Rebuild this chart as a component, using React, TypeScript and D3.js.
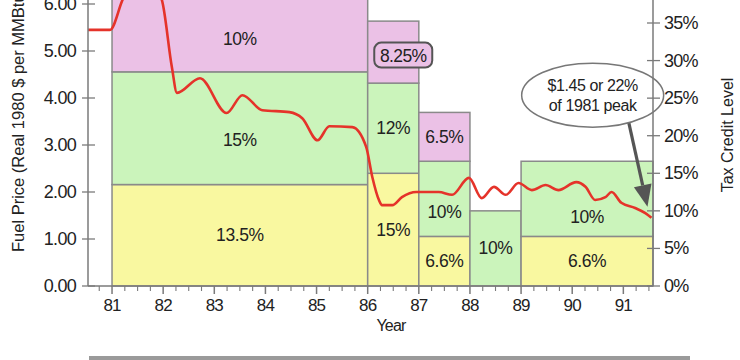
import React from "react";
import * as d3 from "d3";

// ---- Data ----
const blockStart = [81, 86, 87, 88, 89];
const blockEnd = [86, 87, 88, 89, 91.58];
const yellowCredit = [13.5, 15, 6.6, 0, 6.6];
const greenCredit = [15, 12, 10, 10, 10];
const pinkCredit = [10, 8.25, 6.5, 0, 0];
const yellowLabels = ["13.5%", "15%", "6.6%", "", "6.6%"];
const greenLabels = ["15%", "12%", "10%", "10%", "10%"];
const pinkLabels = ["10%", "8.25%", "6.5%", "", ""];

const priceYear = [
  80.53, 80.96, 81.21, 81.45, 81.7, 81.97, 82.17, 82.27, 82.72, 83.24, 83.55, 83.94,
  84.47, 84.72, 85.02, 85.25, 85.7, 85.97, 86.09, 86.22, 86.28, 86.48, 86.67, 86.95,
  87.39, 87.65, 87.98, 88.23, 88.47, 88.7, 88.95, 89.21, 89.48, 89.73, 90.08, 90.26,
  90.45, 90.65, 90.77, 90.96, 91.23, 91.43, 91.55,
];
const priceValue = [
  5.45, 5.45, 6.1, 6.6, 6.5, 6.1, 4.66, 4.11, 4.42, 3.68, 4.06, 3.74,
  3.7, 3.57, 3.1, 3.4, 3.38, 2.96, 2.32, 1.83, 1.72, 1.72, 1.89, 2.0,
  2.0, 1.94, 2.3, 1.87, 2.11, 1.94, 2.19, 2.04, 2.15, 2.04, 2.21, 2.11,
  1.83, 1.89, 2.0, 1.77, 1.66, 1.55, 1.45,
];

const yearTicks = [81, 82, 83, 84, 85, 86, 87, 88, 89, 90, 91];
const priceTicks = [0, 1, 2, 3, 4, 5, 6];
const pctTicks = [0, 5, 10, 15, 20, 25, 30, 35];
const noteLines = ["$1.45 or 22%", "of 1981 peak"];

// ---- Styles ----
const W = 740, H = 360;
const YELLOW = "#f9f8a0";
const GREEN = "#cbf4bb";
const PINK = "#ebc1e6";
const EDGE = "#8a8a8a";
const AXIS = "#7a7a7a";
const RED = "#e5332a";
const TXT = "#222";
const FONT = "'Liberation Sans', Arial, sans-serif";

export default function App() {
  const x = d3.scaleLinear().domain([80.53, 91.58]).range([88, 653]);
  const yP = d3.scaleLinear().domain([0, 6]).range([286, 4]);
  const yC = d3.scaleLinear().domain([0, 35]).range([286, 23]);

  const pts = priceYear.map((yr, i) => [x(yr), yP(priceValue[i])] as [number, number]);
  const line = d3.line().curve(d3.curveMonotoneX)(pts) || "";

  const minorTicks = d3.range(0, 45).map((i) => 80.5 + i * 0.25).filter((v) => v >= 80.53 && v <= 91.58);

  const labelDy = { green: [12, 0, 13, 0, 18] };

  const blocks = blockStart.map((s, i) => {
    const y1 = yellowCredit[i];
    const g1 = y1 + greenCredit[i];
    const p1 = g1 + pinkCredit[i];
    return { s, e: blockEnd[i], y1, g1, p1, i };
  });

  const tip = [x(priceYear[priceYear.length - 1]) - 4, yP(priceValue[priceValue.length - 1]) - 11];
  const ellC = [x(90.4), yP(4.06)];
  const tail = [ellC[0] + 36, ellC[1] + 27];
  const ang = Math.atan2(tip[1] - tail[1], tip[0] - tail[0]);
  const hl = 22, hw = 9;
  const base = [tip[0] - hl * Math.cos(ang), tip[1] - hl * Math.sin(ang)];
  const head = [
    tip,
    [base[0] + hw * Math.sin(ang), base[1] - hw * Math.cos(ang)],
    [base[0] - hw * Math.sin(ang), base[1] + hw * Math.cos(ang)],
  ];

  const LBL = 17.5;

  return (
    <svg width={W} height={H} style={{ position: "absolute", left: 0, top: 0, background: "#fff" }} fontFamily={FONT}>
      {/* blocks */}
      {blocks.map((b) => (
        <g key={b.i}>
          {yellowCredit[b.i] > 0 && (
            <rect x={x(b.s)} y={yC(b.y1)} width={x(b.e) - x(b.s)} height={yC(0) - yC(b.y1)} fill={YELLOW} stroke={EDGE} strokeWidth={1.5} />
          )}
          {greenCredit[b.i] > 0 && (
            <rect x={x(b.s)} y={yC(b.g1)} width={x(b.e) - x(b.s)} height={yC(b.y1) - yC(b.g1)} fill={GREEN} stroke={EDGE} strokeWidth={1.5} />
          )}
          {pinkCredit[b.i] > 0 && (
            <rect x={x(b.s)} y={yC(b.p1)} width={x(b.e) - x(b.s)} height={yC(b.g1) - yC(b.p1)} fill={PINK} stroke={EDGE} strokeWidth={1.5} />
          )}
        </g>
      ))}
      {/* block labels */}
      {blocks.map((b) => {
        const cx = (x(b.s) + x(b.e)) / 2;
        const pinkTop = Math.max(yC(b.p1), 0);
        return (
          <g key={"l" + b.i} fontSize={LBL} fill={TXT} textAnchor="middle" dominantBaseline="central" letterSpacing={-0.4}>
            {yellowLabels[b.i] && <text x={cx} y={(yC(0) + yC(b.y1)) / 2}>{yellowLabels[b.i]}</text>}
            {greenLabels[b.i] && <text x={cx} y={(yC(b.y1) + yC(b.g1)) / 2 + labelDy.green[b.i]}>{greenLabels[b.i]}</text>}
            {pinkLabels[b.i] && b.i !== 1 && <text x={cx} y={(pinkTop + yC(b.g1)) / 2 + (b.i === 0 ? 3 : 0)}>{pinkLabels[b.i]}</text>}
          </g>
        );
      })}
      {/* boxed 8.25% label */}
      {(() => {
        const i = 1;
        const b = blocks[i];
        const cx = (x(b.s) + x(b.e)) / 2 + 10;
        const cy = (yC(b.p1) + yC(b.g1)) / 2 + 3;
        return (
          <g>
            <rect x={cx - 29} y={cy - 12.5} width={58} height={25} rx={7} fill={PINK} stroke="#555" strokeWidth={2} />
            <text x={cx} y={cy + 1} fontSize={LBL} fill={TXT} textAnchor="middle" dominantBaseline="central" letterSpacing={-0.6}>{pinkLabels[i]}</text>
          </g>
        );
      })()}
      {/* price line */}
      <path d={line} fill="none" stroke={RED} strokeWidth={2.6} strokeLinejoin="round" />
      {/* annotation */}
      <line x1={tail[0]} y1={tail[1]} x2={base[0]} y2={base[1]} stroke="#555" strokeWidth={3.2} />
      <polygon points={head.map((p) => p.join(",")).join(" ")} fill="#555" />
      <ellipse cx={ellC[0]} cy={ellC[1]} rx={71} ry={32} fill="#fff" stroke="#777" strokeWidth={1.5} />
      {noteLines.map((t, i) => (
        <text key={t} x={ellC[0]} y={ellC[1] - 10 + i * 20} fontSize={16} fill={TXT} textAnchor="middle" dominantBaseline="central" letterSpacing={-0.4}>{t}</text>
      ))}
      {/* axes */}
      <line x1={88} y1={0} x2={88} y2={286} stroke={AXIS} strokeWidth={1.5} />
      <line x1={653} y1={0} x2={653} y2={286} stroke={AXIS} strokeWidth={1.5} />
      <line x1={88} y1={286} x2={653} y2={286} stroke={AXIS} strokeWidth={1.5} />
      {priceTicks.map((t) => (
        <g key={"p" + t}>
          <line x1={82} x2={95} y1={yP(t)} y2={yP(t)} stroke={AXIS} strokeWidth={1.3} />
          <text x={76} y={yP(t)} fontSize={18} fill={TXT} textAnchor="end" dominantBaseline="central" letterSpacing={-0.7}>{t.toFixed(2)}</text>
        </g>
      ))}
      {pctTicks.map((t) => (
        <g key={"c" + t}>
          <line x1={647} x2={660} y1={yC(t)} y2={yC(t)} stroke={AXIS} strokeWidth={1.3} />
          <text x={664} y={yC(t)} fontSize={18} fill={TXT} textAnchor="start" dominantBaseline="central" letterSpacing={-0.7}>{t + "%"}</text>
        </g>
      ))}
      {minorTicks.map((t) => {
        const major = Math.abs(t - Math.round(t)) < 1e-6;
        return <line key={"m" + t} x1={x(t)} x2={x(t)} y1={286} y2={major ? 294 : 291} stroke={AXIS} strokeWidth={major ? 1.5 : 1.1} />;
      })}
      {yearTicks.map((t) => (
        <text key={"y" + t} x={x(t)} y={305} fontSize={17} fill={TXT} textAnchor="middle" dominantBaseline="central" letterSpacing={-0.8}>{t}</text>
      ))}
      <text x={391} y={325} fontSize={16} fill={TXT} textAnchor="middle" dominantBaseline="central" letterSpacing={-0.8}>Year</text>
      <text transform={`translate(18,252) rotate(-90)`} fontSize={16.5} fill={TXT} textAnchor="start" dominantBaseline="central">Fuel Price (Real 1980 $ per MMBtu)</text>
      <text transform={`translate(727,135) rotate(-90)`} fontSize={16} fill={TXT} textAnchor="middle" dominantBaseline="central">Tax Credit Level</text>
      {/* bottom bar */}
      <rect x={89} y={356} width={601} height={4} fill="#9a9a9a" />
    </svg>
  );
}
